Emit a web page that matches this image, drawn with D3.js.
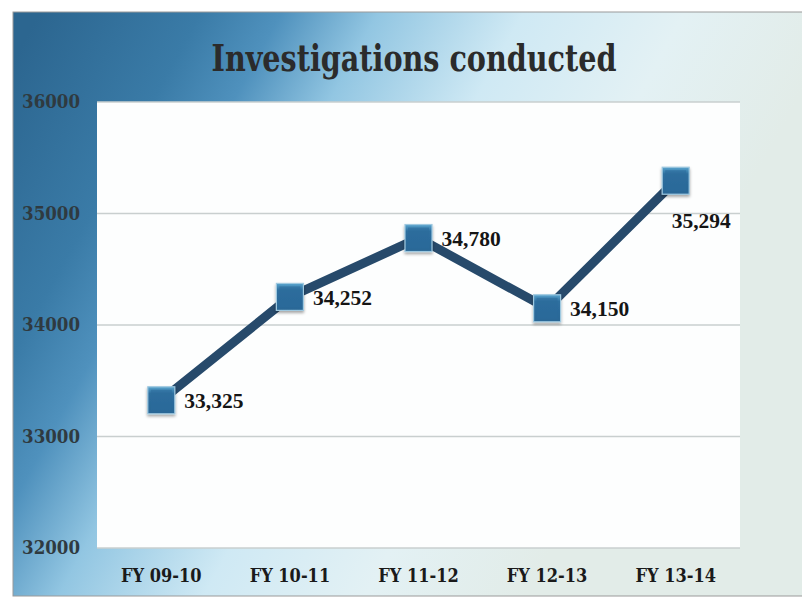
<!DOCTYPE html>
<html><head><meta charset="utf-8">
<script src="https://cdn.jsdelivr.net/npm/d3@7"></script>
<style>body{margin:0;background:#fff}svg{display:block}</style>
</head><body>
<svg id="c" width="802" height="600"></svg>
<script>
const title = "Investigations conducted";
const categories = ["FY 09-10","FY 10-11","FY 11-12","FY 12-13","FY 13-14"];
const values = [33325, 34252, 34780, 34150, 35294];
const yTicks = [32000, 33000, 34000, 35000, 36000];

const svg = d3.select("#c");
const defs = svg.append("defs");
const bg = defs.append("linearGradient").attr("id","bg")
  .attr("gradientUnits","userSpaceOnUse").attr("x1",30).attr("y1",30).attr("x2",650).attr("y2",370);
bg.append("stop").attr("offset",0).attr("stop-color","#2c6690");
bg.append("stop").attr("offset",0.2).attr("stop-color","#3a7ba7");
bg.append("stop").attr("offset",0.3).attr("stop-color","#4f91bd");
bg.append("stop").attr("offset",0.42).attr("stop-color","#92c6e2");
bg.append("stop").attr("offset",0.6).attr("stop-color","#cfe9f4");
bg.append("stop").attr("offset",0.8).attr("stop-color","#e3f1f4");
bg.append("stop").attr("offset",1).attr("stop-color","#e2ece8");

const mk = defs.append("linearGradient").attr("id","mk").attr("x1",0).attr("y1",0).attr("x2",0).attr("y2",1);
mk.append("stop").attr("offset",0).attr("stop-color","#5aa6cf");
mk.append("stop").attr("offset",0.25).attr("stop-color","#2e6f9f");
mk.append("stop").attr("offset",1).attr("stop-color","#2a6796");

const flt = defs.append("filter").attr("id","sh").attr("x","-50%").attr("y","-50%").attr("width","200%").attr("height","200%");
flt.append("feDropShadow").attr("dx",0).attr("dy",2).attr("stdDeviation",1.5).attr("flood-color","#000").attr("flood-opacity",0.35);

// frame
svg.append("rect").attr("x",13).attr("y",12).attr("width",800).attr("height",584)
  .attr("fill","url(#bg)").attr("stroke","#9a9a9a").attr("stroke-width",1);

const m = {l:97, r:740, t:102, b:548};
const x = d3.scaleBand().domain(categories).range([m.l, m.r]);
const y = d3.scaleLinear().domain([32000, 36000]).range([m.b, m.t]);

svg.append("rect").attr("x",m.l).attr("y",m.t).attr("width",m.r-m.l).attr("height",m.b-m.t).attr("fill","#fdfefe");

svg.append("g").selectAll("line").data(yTicks).join("line")
  .attr("x1",m.l).attr("x2",m.r).attr("y1",d=>y(d)).attr("y2",d=>y(d))
  .attr("stroke","#c9cfcf").attr("stroke-width",1.5);

const yAxis = svg.append("g").attr("transform",`translate(${m.l},0)`)
  .call(d3.axisLeft(y).tickValues(yTicks).tickSize(0).tickPadding(17).tickFormat(d3.format("d")));
yAxis.select(".domain").remove();
yAxis.selectAll("text").attr("font-family","'DejaVu Serif Condensed','DejaVu Serif',serif").attr("font-weight","bold")
  .attr("font-size",18.5).attr("fill","#2f3a40");

const xAxis = svg.append("g").attr("transform",`translate(0,${m.b})`)
  .call(d3.axisBottom(x).tickSize(0).tickPadding(21));
xAxis.select(".domain").remove();
xAxis.selectAll("text").attr("font-family","'DejaVu Serif Condensed','DejaVu Serif',serif").attr("font-weight","bold")
  .attr("font-size",18).attr("fill","#1a1a1a");

svg.append("text").attr("x",414).attr("y",71).attr("text-anchor","middle")
  .attr("font-family","'DejaVu Serif Condensed','DejaVu Serif',serif").attr("font-weight","bold")
  .attr("font-size",37).attr("fill","#2b2b2b").attr("textLength",405).attr("lengthAdjust","spacingAndGlyphs").text(title);

const cx = (c)=>x(c)+x.bandwidth()/2;
const line = d3.line().x((d,i)=>cx(categories[i])).y(d=>y(d));
svg.append("path").datum(values).attr("d",line).attr("fill","none")
  .attr("stroke","#274a6b").attr("stroke-width",9).attr("stroke-linejoin","miter");

const s = 27;
const g = svg.append("g").selectAll("g").data(values).join("g")
  .attr("transform",(d,i)=>`translate(${cx(categories[i])},${y(d)})`);
g.append("rect").attr("x",-s/2).attr("y",-s/2).attr("width",s).attr("height",s)
  .attr("fill","url(#mk)").attr("stroke","#9fc9e0").attr("stroke-width",1.2).attr("filter","url(#sh)");
g.append("rect").attr("x",-s/2+3).attr("y",-s/2+3).attr("width",s-6).attr("height",s-6)
  .attr("fill","#2b6b9b").attr("opacity",0.6);

const fmt = d3.format(",");
svg.append("g").selectAll("text").data(values).join("text")
  .attr("x",(d,i)=> cx(categories[i]) + (i===values.length-1 ? -4 : 23))
  .attr("y",(d,i)=> y(d) + (i===values.length-1 ? 47 : 8))
  .attr("font-family","'Liberation Serif','Times New Roman',serif").attr("font-weight","bold")
  .attr("font-size",21.5).attr("fill","#151515").text(d=>fmt(d));
</script>
</body></html>
